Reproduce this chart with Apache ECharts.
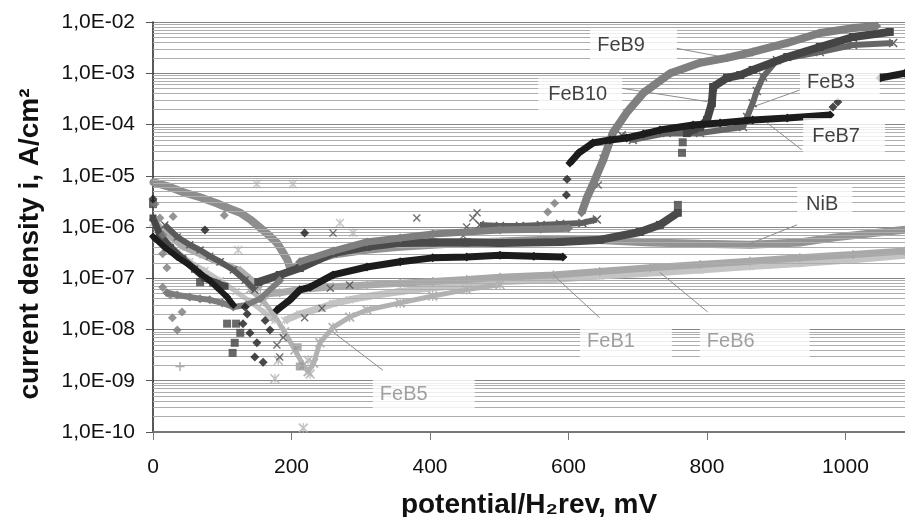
<!DOCTYPE html>
<html>
<head>
<meta charset="utf-8">
<script src="https://cdn.jsdelivr.net/npm/echarts@6/dist/echarts.min.js"></script>
<style>
  html, body { margin: 0; padding: 0; background: #fff; }
  #chart { width: 905px; height: 517px; }
</style>
</head>
<body>
<div id="chart"></div>
<script>
// potential (mV) vs current density (A/cm2)
const feb7Fall = [[0,6.5e-7],[17,4e-7],[35,2.6e-7],[53,1.8e-7],[68,1.25e-7],[82,9e-8],[92,6.7e-8],[107,4.3e-8],[116,3e-8]]
const feb7Rise = [[179,2.4e-8],[198,3.8e-8],[212,5.9e-8],[227,6.7e-8],[260,1.16e-7],[309,1.66e-7],[357,2.1e-7],[404,2.5e-7],[453,2.6e-7],[501,2.8e-7],[550,2.7e-7],[592,2.6e-7]]
const feb7High = [[602,1.77e-5],[615,2.8e-5],[635,4.35e-5],[660,5e-5],[684,5.45e-5],[708,6.5e-5],[732,7.8e-5],[780,9.8e-5],[819,1.07e-4],[866,1.22e-4],[916,1.34e-4],[978,1.53e-4]]
const feb7End = [[1050,8.1e-4],[1086,1e-3]]
const feb7Dots = [[0,3.5e-6],[75,8.7e-7],[219,7.6e-7],[133,2.75e-8],[136,2e-8],[130,1.3e-8],[140,8.5e-9],[150,5.5e-9],[147,2.9e-9],[159,2.3e-9],[162,1.5e-8],[169,9.8e-9],[598,8.5e-6],[597,4.2e-6],[982,2.2e-4],[989,2.75e-4]]

const feb10Fall = [[0,1.5e-6],[10,7e-7],[25,4e-7],[43,2.4e-7],[60,1.5e-7],[75,1e-7],[92,8e-8],[104,7e-8]]
const feb10Rise = [[152,8.4e-8],[183,1.16e-7],[212,1.58e-7],[260,3.1e-7],[309,4.1e-7],[357,4.9e-7],[404,5e-7],[453,5e-7],[501,4.9e-7],[588,5.1e-7],[645,5.6e-7],[703,8e-7],[732,1.1e-6],[758,1.9e-6]]
const feb10High = [[771,6.8e-5],[780,8e-5],[790,8.9e-5],[800,1.22e-4],[807,2.6e-4],[809,5.4e-4],[829,8.1e-4],[848,9.2e-4],[866,1.16e-3],[916,2.07e-3],[963,3.25e-3],[1011,5.1e-3],[1064,6.4e-3]]
const feb10Dots = [[0,2.8e-6],[68,8.4e-8],[87,8.2e-8],[107,1.3e-8],[120,1.3e-8],[126,8.6e-9],[118,5.5e-9],[115,3.5e-9],[758,2.7e-6],[764,2.8e-5],[765,4.5e-5]]

const feb3Fall = [[17,1.1e-6],[35,6.4e-7],[53,4.5e-7],[68,3.55e-7],[82,2.7e-7],[97,2.1e-7],[116,1.45e-7],[133,9.2e-8],[147,5.9e-8]]
const feb3Mid = [[472,1.1e-6],[501,1.05e-6],[530,1.05e-6],[560,1.1e-6],[588,1.15e-6],[620,1.2e-6],[641,1.4e-6]]
const feb3High = [[677,6.2e-5],[693,5e-5],[742,6.8e-5],[790,6.8e-5],[852,8.9e-5],[858,1.4e-4],[866,2.6e-4],[872,4.5e-4],[881,8.5e-4],[901,1.8e-3],[963,2.6e-3],[1011,3.55e-3],[1069,3.9e-3]]
const feb3Dots = [[183,2.9e-9],[179,5e-9],[188,7e-9],[219,1.7e-8],[244,2.6e-8],[256,6.4e-8],[284,7.4e-8],[260,7.6e-7],[381,1.5e-6],[448,6.7e-7],[453,1e-6],[462,1.5e-6],[468,1.9e-6],[643,6.6e-6],[650,2.2e-5]]

const feb9Low = [[20,5.2e-8],[35,4.7e-8],[53,4.3e-8],[68,4e-8],[82,3.8e-8],[100,3.3e-8],[116,2.75e-8],[135,3e-8],[155,4e-8],[183,9e-8]]
const feb9Band = [[212,2.1e-7],[260,3.4e-7],[309,5.1e-7],[357,6.1e-7],[404,7.3e-7],[501,8.7e-7],[560,9e-7],[600,9.5e-7]]
const feb9Rise = [[619,1.9e-6],[627,3.85e-6],[635,6.6e-6],[650,2e-5],[664,6.8e-5],[684,1.7e-4],[708,4.1e-4],[747,1e-3],[790,1.6e-3],[829,2e-3],[866,2.6e-3],[916,3.9e-3],[963,6.1e-3],[1011,7.6e-3],[1045,8.35e-3]]
const feb9Dots = [[3,2.8e-6],[10,1.5e-6],[14,7e-7],[14,3e-7],[20,1.6e-7],[14,6.7e-8],[25,4.7e-8],[28,1.7e-8],[42,2.2e-8],[35,9.8e-9],[29,1.6e-6],[103,1.7e-6],[570,1.96e-6],[580,2.9e-6]]

const nibArc = [[0,7.5e-6],[20,6.3e-6],[43,4.8e-6],[68,3.8e-6],[92,2.9e-6],[110,2.3e-6],[126,1.9e-6],[142,1.35e-6],[155,9.6e-7],[168,6.8e-7],[179,4.9e-7],[187,3.3e-7],[194,2.3e-7],[198,1.6e-7],[201,1.4e-7]]
const nibRise = [[205,1.6e-7],[212,1.9e-7],[260,2.9e-7],[309,3.6e-7],[357,4.1e-7],[404,4.5e-7],[453,4.9e-7],[501,5.2e-7],[560,5.6e-7],[645,5.6e-7],[718,5e-7],[790,4.7e-7],[862,4.5e-7],[934,5e-7],[982,6.2e-7],[1040,7.6e-7],[1086,8.8e-7]]
const nibDots = [[209,4.5e-9],[212,1.9e-9]]

const feb1Fall = [[0,1.4e-6],[17,8e-7],[43,4.1e-7],[68,2.9e-7],[92,2.1e-7],[111,1.7e-7],[126,1.45e-7],[140,1e-7],[155,6e-8]]
const feb1Rise = [[165,5e-8],[183,5.2e-8],[212,6e-8],[260,6.8e-8],[309,7.4e-8],[357,8e-8],[404,8.6e-8],[453,9.5e-8],[501,1.05e-7],[578,1.16e-7],[645,1.35e-7],[718,1.6e-7],[790,1.85e-7],[862,2.15e-7],[934,2.5e-7],[1011,2.9e-7],[1086,3.4e-7]]
const feb1Dots = [[39,1.9e-9]]

const feb6Fall = [[0,1.2e-6],[17,6e-7],[35,3.3e-7],[53,2.1e-7],[75,1.4e-7],[97,9e-8],[120,5.5e-8],[140,3.5e-8],[160,2.2e-8],[176,1.5e-8]]
const feb6Rise = [[190,1.5e-8],[212,2e-8],[241,2.6e-8],[260,3.2e-8],[284,3.8e-8],[309,4.4e-8],[357,5.5e-8],[404,6.5e-8],[453,7.5e-8],[501,8.5e-8],[578,9.5e-8],[645,1.1e-7],[732,1.3e-7],[790,1.45e-7],[862,1.7e-7],[934,1.95e-7],[1011,2.3e-7],[1086,2.8e-7]]
const feb6Dots = [[150,6.9e-6],[202,6.9e-6],[270,1.2e-6],[289,7.7e-7],[123,3.55e-7]]

const feb5Curve = [[140,6e-8],[160,3.5e-8],[176,1.8e-8],[190,9e-9],[205,4e-9],[217,2e-9],[224,1.5e-9],[232,2.2e-9],[241,5.5e-9],[260,1.1e-8],[284,1.75e-8],[309,2.4e-8],[357,3.3e-8],[404,4.5e-8],[453,6e-8],[501,7.5e-8]]
const feb5Dots = [[176,1.1e-9],[181,2.5e-9],[227,1.35e-9],[224,2.5e-9],[217,1.2e-10]]

// curve labels: box centre (mV, A/cm2) and leader line ends
const labelNames = ['FeB9', 'FeB10', 'FeB3', 'FeB7', 'NiB', 'FeB1', 'FeB6', 'FeB5']
const labelPos = [[694,3.55e-3],[617,3.9e-4],[992,6.75e-4],[998,5.8e-5],[970,2.75e-6],[683,5.8e-9],[869,5.8e-9],[391,5.4e-10]]
const leaderFrom = [[754,3.1e-3],[677,5.1e-4],[934,4.7e-4],[887,1.07e-4],[930,1.1e-6],[578,1.16e-7],[732,1.3e-7],[260,8.9e-9]]
const leaderTo = [[829,2e-3],[800,2.8e-4],[866,2.2e-4],[937,3.2e-5],[858,4.5e-7],[645,1.7e-8],[801,2.2e-8],[332,1.6e-9]]

const xTicks = [0, 200, 400, 600, 800, 1000]
const xMax = 1086
const decades = [-10, -9, -8, -7, -6, -5, -4, -3]
const mantissas = [2, 3, 4, 5, 6, 7, 8, 9]

const FONT = '"Liberation Sans", Arial, sans-serif'
const ASTER = 'path://M0,1.2 L1.2,0 L5,3.8 L8.8,0 L10,1.2 L6.2,5 L10,8.8 L8.8,10 L5,6.2 L1.2,10 L0,8.8 L3.8,5 Z M4.4,0 L5.6,0 L5.6,10 L4.4,10 Z'
const XMARK = 'path://M0,1.2 L1.2,0 L5,3.8 L8.8,0 L10,1.2 L6.2,5 L10,8.8 L8.8,10 L5,6.2 L1.2,10 L0,8.8 L3.8,5 Z'
const PLUS = 'path://M4.2,0 L5.8,0 L5.8,4.2 L10,4.2 L10,5.8 L5.8,5.8 L5.8,10 L4.2,10 L4.2,5.8 L0,5.8 L0,4.2 L4.2,4.2 Z'

const labelStyle = [
  { color: '#111', padding: [6, 32, 8, 7] },
  { color: '#111', padding: [6, 15, 6, 10] },
  { color: '#111', padding: [8, 25, 8, 7] },
  { color: '#111', padding: [8, 25, 9, 9] },
  { color: '#111', padding: [5, 14, 10, 9] },
  { color: '#888', padding: [4, 37, 17, 7] },
  { color: '#888', padding: [1, 55, 20, 7] },
  { color: '#888', padding: [9, 47, 6, 7] }
]

function band(name, data, color, symbol, size, width, z) {
  return {
    type: 'line', name, data, symbol, symbolSize: size, showAllSymbol: true,
    lineStyle: { color, width }, itemStyle: { color }, z: z, silent: true
  }
}
function dots(name, data, color, symbol, size, z) {
  return { type: 'scatter', name, data, symbol, symbolSize: size, itemStyle: { color }, z: z, silent: true }
}

// minor log gridlines 2..9 in every decade
const minorLines = []
decades.forEach(d => mantissas.forEach(m => {
  const v = m * Math.pow(10, d)
  minorLines.push([{ coord: [0, v] }, { coord: [xMax, v] }])
}))

const chart = echarts.init(document.getElementById('chart'))

chart.setOption({
  animation: false,
  backgroundColor: '#fff',
  grid: { left: 153, top: 22, right: 0, bottom: 85, outerBoundsMode: 'none', containLabel: false },
  xAxis: {
    type: 'value', min: 0, max: xMax, interval: 200,
    name: 'potential/H₂rev, mV', nameLocation: 'middle', nameGap: 59,
    nameTextStyle: { fontSize: 28, fontWeight: 'bold', color: '#111', fontFamily: FONT },
    axisLine: { lineStyle: { color: '#777', width: 2 } },
    axisTick: { show: true, length: 8, lineStyle: { color: '#777' } },
    axisLabel: {
      fontSize: 21, color: '#111', fontFamily: FONT, margin: 25,
      formatter: v => (xTicks.indexOf(v) >= 0 ? String(v) : '')
    },
    splitLine: { show: false }
  },
  yAxis: {
    type: 'log', logBase: 10, min: 1e-10, max: 1e-2, splitNumber: 8,
    name: 'current density i, A/cm²', nameLocation: 'middle', nameGap: 109,
    nameTextStyle: { fontSize: 28, fontWeight: 'bold', color: '#111', fontFamily: FONT, padding: [0, 34, 0, 0] },
    axisLine: { show: true, lineStyle: { color: '#222', width: 1.5 } },
    axisTick: { show: true, length: 7, lineStyle: { color: '#555' } },
    axisLabel: {
      fontSize: 21, color: '#111', fontFamily: FONT, margin: 18,
      formatter: v => '1,0E-' + String(-Math.round(Math.log10(v))).padStart(2, '0')
    },
    splitLine: { show: true, lineStyle: { color: '#858585', width: 1 } }
  },
  series: [
    {
      type: 'scatter', name: 'grid', data: [[0, 1e-10]], symbolSize: 0, silent: true, z: 1,
      markLine: {
        silent: true, symbol: ['none', 'none'], animation: false,
        label: { show: false },
        lineStyle: { color: '#adadad', width: 1, type: 'solid' },
        data: minorLines
      }
    },
    band('FeB6', feb6Fall, '#c4c4c4', ASTER, 8, 5, 2),
    band('FeB6', feb6Rise, '#c4c4c4', ASTER, 8, 7, 2),
    dots('FeB6', feb6Dots, '#bcbcbc', ASTER, 9, 2),
    band('FeB5', feb5Curve, '#b2b2b2', ASTER, 10, 5, 2),
    dots('FeB5', feb5Dots, '#b2b2b2', ASTER, 10, 2),
    band('FeB1', feb1Fall, '#adadad', PLUS, 8, 6, 3),
    band('FeB1', feb1Rise, '#a8a8a8', PLUS, 9, 7, 3),
    dots('FeB1', feb1Dots, '#999', PLUS, 9, 3),
    band('NiB', nibArc, '#8e8e8e', 'circle', 7, 8, 4),
    band('NiB', nibRise, '#939393', 'circle', 7, 8, 4),
    dots('NiB', nibDots, '#999', 'rect', 8, 4),
    band('FeB3', feb3Fall, '#5a5a5a', XMARK, 8, 6, 5),
    band('FeB3', feb3Mid, '#5f5f5f', XMARK, 9, 6, 5),
    band('FeB3', feb3High, '#666', XMARK, 9, 6, 5),
    dots('FeB3', feb3Dots, '#4e4e4e', XMARK, 8, 5),
    band('FeB10', feb10Fall, '#474747', 'rect', 7, 7, 6),
    band('FeB10', feb10Rise, '#4a4a4a', 'rect', 8, 8, 6),
    band('FeB10', feb10High, '#444', 'rect', 8, 8, 6),
    dots('FeB10', feb10Dots, '#444', 'rect', 8, 6),
    band('FeB9', feb9Low, '#7d7d7d', 'diamond', 9, 6, 7),
    band('FeB9', feb9Band, '#7f7f7f', 'diamond', 9, 7, 7),
    band('FeB9', feb9Rise, '#7f7f7f', 'diamond', 9, 8, 7),
    dots('FeB9', feb9Dots, '#7a7a7a', 'diamond', 9, 7),
    band('FeB7', feb7Fall, '#1c1c1c', 'diamond', 8, 6, 8),
    band('FeB7', feb7Rise, '#1c1c1c', 'diamond', 9, 7, 8),
    band('FeB7', feb7High, '#1c1c1c', 'diamond', 9, 7, 8),
    band('FeB7', feb7End, '#1c1c1c', 'diamond', 9, 7, 8),
    dots('FeB7', feb7Dots, '#1c1c1c', 'diamond', 9, 8),
    {
      type: 'scatter', name: 'labels', z: 20, silent: true, symbolSize: 1,
      itemStyle: { color: 'rgba(0,0,0,0)' },
      label: {
        show: true, position: 'inside', formatter: '{b}', fontSize: 20, lineHeight: 20,
        fontFamily: FONT, backgroundColor: '#fff'
      },
      labelLayout: { hideOverlap: false },
      data: labelNames.map((n, i) => ({
        name: n, value: labelPos[i],
        label: labelStyle[i]
      })),
      markLine: {
        silent: true, symbol: ['none', 'none'], animation: false,
        label: { show: false },
        lineStyle: { color: '#8c8c8c', width: 1, type: 'solid' },
        data: leaderFrom.map((p, i) => [{ coord: p }, { coord: leaderTo[i] }])
      }
    }
  ]
})
</script>
</body>
</html>
